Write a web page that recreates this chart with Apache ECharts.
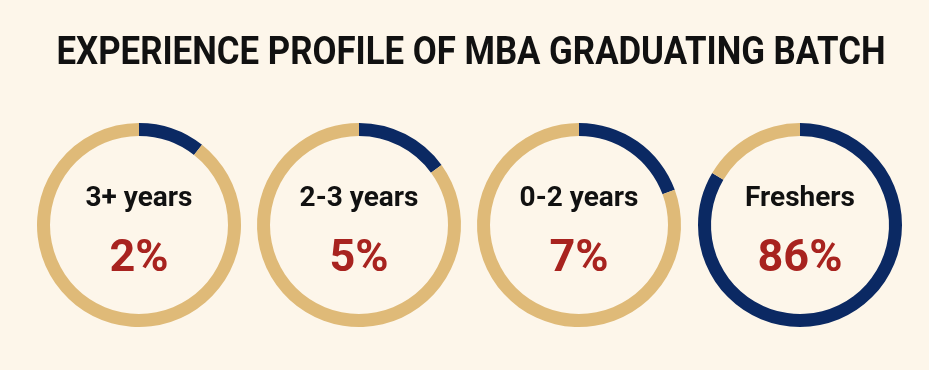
<!DOCTYPE html>
<html><head><meta charset="utf-8">
<script src="https://cdn.jsdelivr.net/npm/echarts@6/dist/echarts.min.js"></script>
<style>html,body{margin:0;padding:0;background:#fdf6ea;}#c{width:929px;height:370px;}</style>
</head><body><div id="c"></div>
<script>
const chartTitle = 'EXPERIENCE PROFILE OF MBA GRADUATING BATCH';
const categories = ['3+ years', '2-3 years', '0-2 years', 'Freshers'];
const percentLabels = [2, 5, 7, 86];
// share of ring drawn in navy
const arcShare = [10.6, 15, 19.4, 83.5];

const centersX = [139, 359, 579, 800];
const cy = 225;
const navy = '#0b2963', tan = '#dfba78', red = '#a8231f';

const series = categories.map((c, i) => ({
  type: 'pie',
  center: [centersX[i], cy],
  radius: [89, 102],
  startAngle: 90,
  clockwise: true,
  silent: true,
  label: {show: false},
  labelLine: {show: false},
  data: [
    {name: c, value: arcShare[i], itemStyle: {color: navy}},
    {name: c + ' rest', value: 100 - arcShare[i], itemStyle: {color: tan}}
  ]
}));

const titleFont = 'bold 38px Roboto, sans-serif';
const cv = document.createElement('canvas').getContext('2d');
cv.font = titleFont;
const titleScale = 829 / cv.measureText(chartTitle).width;

const graphics = [{
  type: 'text', x: 471, y: 54, scaleX: titleScale,
  style: {text: chartTitle, font: titleFont,
    fill: '#111', textAlign: 'center', textVerticalAlign: 'middle'}
}];
categories.forEach((c, i) => {
  graphics.push({type: 'text', x: centersX[i], y: 199,
    style: {text: c, font: 'bold 28px Roboto, sans-serif', fill: '#111', textAlign: 'center', textVerticalAlign: 'middle'}});
  graphics.push({type: 'text', x: centersX[i], y: 260,
    style: {text: percentLabels[i] + '%', font: 'bold 45px Roboto, sans-serif', fill: red, textAlign: 'center', textVerticalAlign: 'middle'}});
});

const chart = echarts.init(document.getElementById('c'));
chart.setOption({
  backgroundColor: '#fdf6ea',
  animation: false,
  series: series,
  graphic: graphics
});
</script></body></html>
